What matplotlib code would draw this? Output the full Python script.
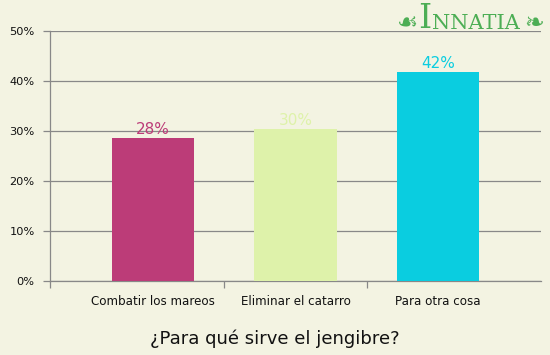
import matplotlib
matplotlib.use("Agg")
import matplotlib.pyplot as plt

# Chart data
categories = ["Combatir los mareos", "Eliminar el catarro", "Para otra cosa"]
values = [28.6, 30.4, 41.8]
value_labels = ["28%", "30%", "42%"]
bar_colors = ["#BC3C78", "#DEF2AA", "#0ACDE0"]
y_ticks = [0, 10, 20, 30, 40, 50]
title = "¿Para qué sirve el jengibre?"

bg = "#F3F3E2"
grid_col = "#888888"

fig = plt.figure(figsize=(5.5, 3.55), dpi=100, facecolor=bg)
ax = fig.add_axes([50 / 550, 1 - 281 / 355, 491 / 550, 250 / 355])
ax.set_facecolor(bg)

x = range(len(categories))
ax.bar(x, values, width=0.575, color=bar_colors, zorder=3)

# value labels above each bar, same colour as the bar
for i, v in enumerate(values):
    ax.text(i, v + 0.2, value_labels[i], ha="center", va="bottom",
            color=bar_colors[i], fontsize=11, zorder=4)

ax.set_xlim(-0.72, 2.72)
ax.set_ylim(0, 50)

# horizontal grid
ax.set_yticks(y_ticks)
ax.set_yticklabels([f"{t}%" for t in y_ticks])
ax.yaxis.grid(True, color=grid_col, linewidth=0.9, zorder=1)

# x ticks sit between the categories, labels under the bars
ax.set_xticks([-0.72, 0.5, 1.5])
ax.set_xticklabels([])
ax.set_xticks(list(x), minor=True)
ax.set_xticklabels(categories, minor=True)
ax.tick_params(axis="x", which="minor", length=0, pad=10, labelsize=8.6, labelcolor="#111111")
ax.tick_params(axis="x", which="major", length=5, color=grid_col, width=0.9)
ax.tick_params(axis="y", length=5, color=grid_col, width=0.9, pad=6, labelsize=8.2, labelcolor="#111111")

for side in ["top", "right"]:
    ax.spines[side].set_visible(False)
for side in ["left", "bottom"]:
    ax.spines[side].set_color(grid_col)
    ax.spines[side].set_linewidth(0.9)

fig.text(0.5, 1 - 339 / 355, title, ha="center", va="center", fontsize=13, color="#111111")

# logo in the top right corner
green = "#4DAE55"
fig.text(424.5 / 550, 1 - 18.5 / 355, "I", ha="center", va="center", fontsize=24,
         color=green, family="DejaVu Serif")
fig.text(475.5 / 550, 1 - 23.5 / 355, "NNATIA", ha="center", va="center", fontsize=15,
         color=green, family="DejaVu Serif")
fig.text(408 / 550, 1 - 23 / 355, "☙", ha="center", va="center", fontsize=17, color=green)
fig.text(534 / 550, 1 - 23 / 355, "❧", ha="center", va="center", fontsize=17, color=green)

fig.savefig("out.png", dpi=100, facecolor=bg)
